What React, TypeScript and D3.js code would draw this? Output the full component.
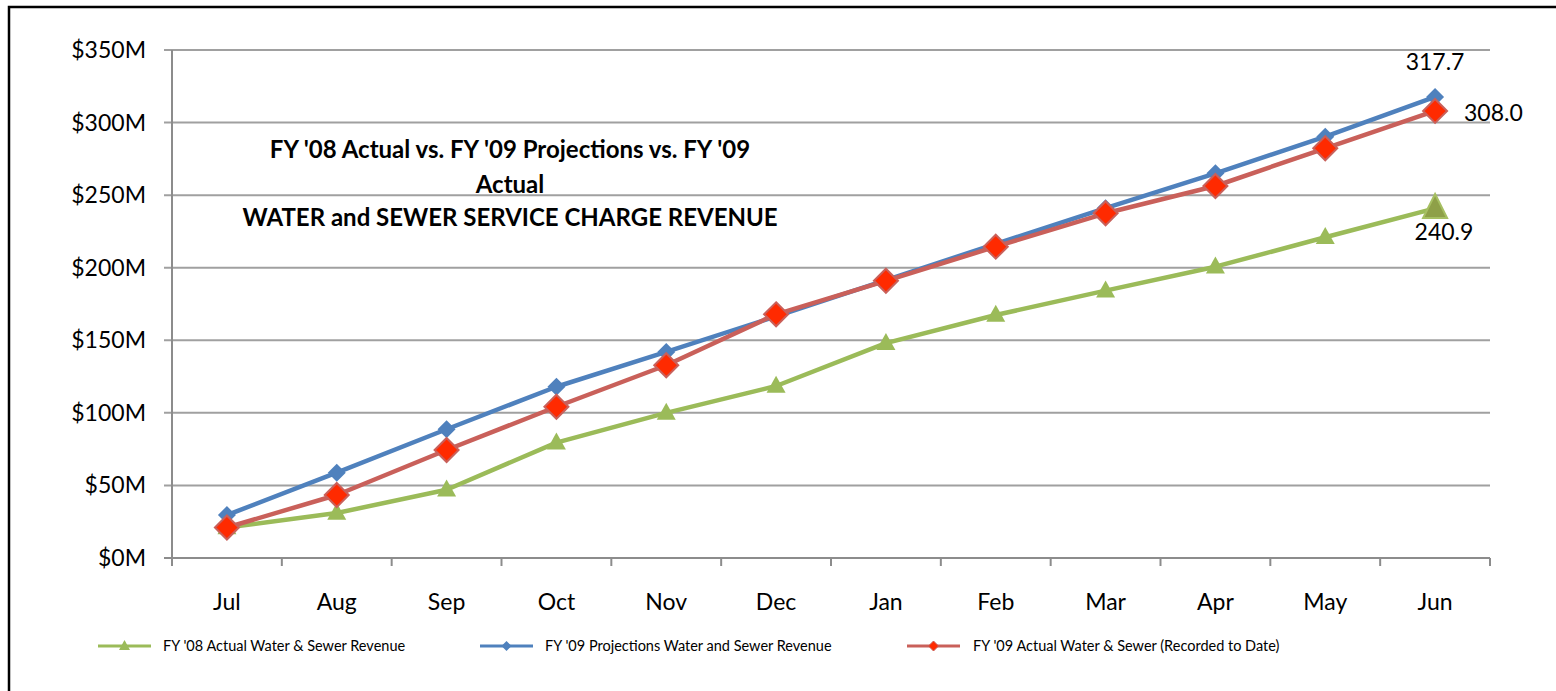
import React from "react";
import * as d3 from "d3";

const months = ["Jul", "Aug", "Sep", "Oct", "Nov", "Dec", "Jan", "Feb", "Mar", "Apr", "May", "Jun"];
const fy08Actual = [21, 31, 47, 79.5, 100, 118.5, 148, 167.4, 184.2, 200.7, 221, 240.9];
const fy09Projection = [29.6, 58.8, 88.7, 118, 142, 166.5, 191.5, 216.4, 241, 265, 290.3, 317.7];
const fy09Actual = [21, 43.4, 74.4, 104.2, 132.8, 167.9, 191, 214.5, 237.5, 256.3, 282.3, 308.0];
const yTicks = [0, 50, 100, 150, 200, 250, 300, 350];
const seriesNames = [
  "FY '08 Actual Water & Sewer Revenue",
  "FY '09 Projections Water and Sewer Revenue",
  "FY '09 Actual Water & Sewer (Recorded to Date)",
];
const titleLines = ["FY '08 Actual vs. FY '09 Projections vs. FY '09", "Actual", "WATER and SEWER SERVICE CHARGE REVENUE"];

const W = 1556;
const H = 691;
const left = 172;
const right = 1490;
const top = 50;
const bottom = 558;
const FONT = "Lato, 'Open Sans', sans-serif";

const green = "#9BBB59";
const blue = "#4F81BD";
const red = "#C9605A";

const App = () => {
  const x = d3.scaleBand<string>().domain(months).range([left, right]);
  const y = d3.scaleLinear().domain([0, 350]).range([bottom, top]);
  const cx = (m: string) => (x(m) as number) + x.bandwidth() / 2;
  const line = d3
    .line<number>()
    .x((_, i) => cx(months[i]))
    .y((d) => y(d));

  const diamond = (px: number, py: number, r: number) =>
    `M${px},${py - r}L${px + r},${py}L${px},${py + r}L${px - r},${py}Z`;
  const tri = (px: number, py: number, w: number, h: number) =>
    `M${px},${py - h * 0.6}L${px + w / 2},${py + h * 0.4}L${px - w / 2},${py + h * 0.4}Z`;

  const last = months.length - 1;

  // legend entries: line start, marker type, text start
  const legend = [
    { x0: 98, x1: 151, tx: 163, color: green, kind: "tri" },
    { x0: 480, x1: 533, tx: 545, color: blue, kind: "dia" },
    { x0: 907, x1: 960, tx: 973, color: red, kind: "red" },
  ];

  return (
    <svg width={W} height={H} style={{ position: "absolute", left: 0, top: 0 }} fontFamily={FONT}>
      <rect x={0} y={0} width={W} height={H} fill="#fff" />
      <rect x={9} y={7} width={1600} height={720} fill="none" stroke="#000" strokeWidth={2.5} />

      {/* gridlines + y labels */}
      {yTicks.map((t) => (
        <g key={t}>
          <line x1={left - 8} x2={right} y1={y(t)} y2={y(t)} stroke={t === 0 ? "#8c8c8c" : "#a0a0a0"} strokeWidth={2} />
          <text x={146} y={y(t)} dy="0.35em" textAnchor="end" fontSize={23} fill="#000">
            ${t}M
          </text>
        </g>
      ))}
      <line x1={left} x2={left} y1={top} y2={bottom + 8} stroke="#8c8c8c" strokeWidth={2} />
      {months.map((m) => (
        <g key={m}>
          <line
            x1={(x(m) as number) + x.bandwidth()}
            x2={(x(m) as number) + x.bandwidth()}
            y1={bottom}
            y2={bottom + 8}
            stroke="#8c8c8c"
            strokeWidth={2}
          />
          <text x={cx(m)} y={610} textAnchor="middle" fontSize={23} fill="#000">
            {m}
          </text>
        </g>
      ))}

      {/* title */}
      {titleLines.map((t, i) => (
        <text key={i} x={510} y={[158, 193, 226][i]} textAnchor="middle" fontSize={24} fontWeight="bold" fill="#000">
          {t}
        </text>
      ))}

      {/* series lines */}
      <path d={line(fy08Actual) || ""} fill="none" stroke={green} strokeWidth={4.5} strokeLinejoin="round" />
      <path d={line(fy09Projection) || ""} fill="none" stroke={blue} strokeWidth={4.5} strokeLinejoin="round" />
      <path d={line(fy09Actual) || ""} fill="none" stroke={red} strokeWidth={4.5} strokeLinejoin="round" />

      {/* markers */}
      {fy08Actual.map((v, i) =>
        i === last ? (
          <path key={i} d={tri(cx(months[i]), y(v), 24, 24)} fill="#8EA048" stroke="#A6BF62" strokeWidth={2} />
        ) : (
          <path key={i} d={tri(cx(months[i]), y(v), 19, 17)} fill={green} />
        )
      )}
      {fy09Projection.map((v, i) => (
        <path key={i} d={diamond(cx(months[i]), y(v), 9)} fill={blue} />
      ))}
      {fy09Actual.map((v, i) => (
        <path key={i} d={diamond(cx(months[i]), y(v), 12)} fill="#FF2A00" stroke={red} strokeWidth={2} />
      ))}

      {/* end-point labels */}
      <text x={cx(months[last])} y={70} textAnchor="middle" fontSize={23} fill="#000">
        {fy09Projection[last].toFixed(1)}
      </text>
      <text x={1464} y={121} textAnchor="start" fontSize={23} fill="#000">
        {fy09Actual[last].toFixed(1)}
      </text>
      <text x={1444} y={240} textAnchor="middle" fontSize={23} fill="#000">
        {fy08Actual[last].toFixed(1)}
      </text>

      {/* legend */}
      {legend.map((l, i) => {
        const mx = (l.x0 + l.x1) / 2;
        return (
          <g key={i}>
            <line x1={l.x0} x2={l.x1} y1={646} y2={646} stroke={l.color} strokeWidth={3} />
            {l.kind === "tri" ? (
              <path d={tri(mx, 646, 11, 10)} fill={l.color} />
            ) : l.kind === "dia" ? (
              <path d={diamond(mx, 646, 5)} fill={l.color} />
            ) : (
              <path d={diamond(mx, 646, 5)} fill="#FF2A00" stroke={red} strokeWidth={1} />
            )}
            <text x={l.tx} y={646} dy="0.35em" fontSize={14.5} fill="#000">
              {seriesNames[i]}
            </text>
          </g>
        );
      })}
    </svg>
  );
};

export default App;
